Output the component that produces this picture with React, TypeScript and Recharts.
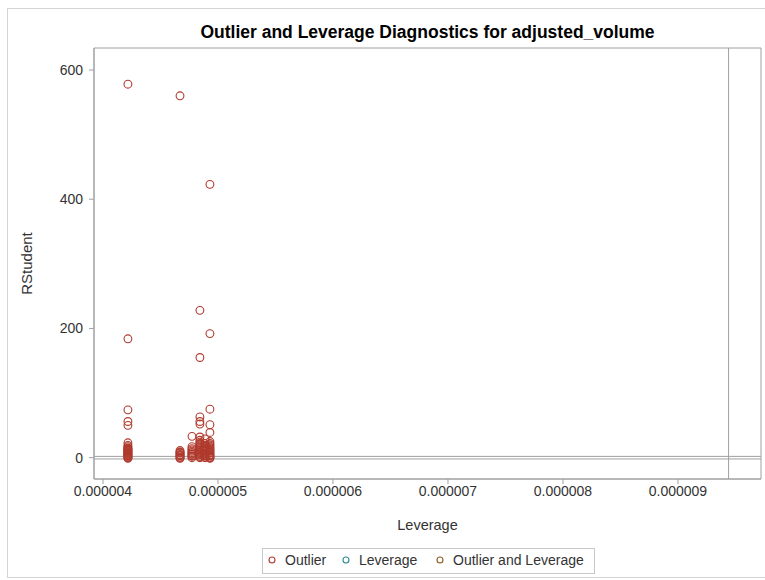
import React from 'react';
import { ScatterChart, Scatter, XAxis, YAxis, ReferenceLine, ReferenceArea } from 'recharts';

// axis ticks
const xTicks = [0.000004, 0.000005, 0.000006, 0.000007, 0.000008, 0.000009];
const yTicks = [0, 200, 400, 600];
const xDomain = [0.000003922, 0.000009722];
const yDomain = [-33, 634];

// cutoffs drawn as reference lines
const leverageCutoff = 0.00000944;
const rstudentCutoffs = [-2, 2];

// outlier observations, grouped by leverage value
const columnLeverage = [0.000004217, 0.00000467, 0.000004774, 0.000004843, 0.000004887, 0.00000493];
const columnRStudent = [
  [578, 184, 74, 56, 50, 23, 19, 17, 15, 14, 13, 12, 11, 10, 9, 8, 7, 6, 5, 4, 3, 2, 1, 0, -1],
  [560, 11, 9, 8, 7, 5, 4, 3, 1, 0, -1],
  [33, 17, 14, 12, 10, 8, 6, 5, 3, 2, 0],
  [228, 155, 63, 56, 52, 32, 27, 24, 22, 20, 18, 16, 14, 12, 11, 9, 8, 6, 5, 4, 2, 1, 0],
  [29, 22, 19, 17, 15, 13, 11, 9, 7, 6, 4, 3, 1, 0],
  [423, 192, 75, 51, 39, 25, 22, 20, 18, 16, 14, 13, 11, 10, 8, 7, 5, 4, 3, 1, 0, -1],
];

const outlierData = columnLeverage.flatMap((lev, i) =>
  columnRStudent[i].map((r) => ({ leverage: lev, rstudent: r }))
);
const leverageData: { leverage: number; rstudent: number }[] = [];
const bothData: { leverage: number; rstudent: number }[] = [];

const COLORS = { outlier: '#b03a2e', leverage: '#2e8b8b', both: '#8c5a1e' };
const FONT = '"Liberation Sans", Arial, sans-serif';
const AXIS = '#a0a0a0';

const ring = (color: string) => (p: any) => (
  <circle cx={p.cx} cy={p.cy} r={3.9} fill="none" stroke={color} strokeWidth={1.1} />
);

const legendItems = [
  { label: 'Outlier', color: COLORS.outlier, x: 272 },
  { label: 'Leverage', color: COLORS.leverage, x: 346 },
  { label: 'Outlier and Leverage', color: COLORS.both, x: 440 },
];

export default function App() {
  return (
    <div style={{ position: 'absolute', left: 0, top: 0, width: 765, height: 580, background: '#fff', fontFamily: FONT, overflow: 'hidden' }}>
      <div style={{ position: 'absolute', left: 7, top: 8, width: 780, height: 568, border: '1px solid #d4d4d4' }} />
      <div style={{ position: 'absolute', left: 94, width: 667, top: 21, lineHeight: '22px', textAlign: 'center', fontWeight: 'bold', fontSize: 17.5, color: '#000' }}>
        Outlier and Leverage Diagnostics for adjusted_volume
      </div>
      <div style={{ position: 'absolute', left: 0, top: 0 }}>
        <ScatterChart width={765} height={580} margin={{ top: 48, right: 4, left: 0, bottom: 41 }}>
          <XAxis
            type="number"
            dataKey="leverage"
            domain={xDomain}
            ticks={xTicks}
            allowDataOverflow
            tickFormatter={(v: number) => v.toFixed(6)}
            tick={{ fontSize: 14, fill: '#333', fontFamily: FONT }}
            stroke={AXIS}
            tickSize={5}
            tickMargin={2}
            height={60}
            label={{ value: 'Leverage', position: 'insideBottom', offset: 9, fontSize: 14.5, fill: '#333', fontFamily: FONT }}
          />
          <YAxis
            type="number"
            dataKey="rstudent"
            domain={yDomain}
            ticks={yTicks}
            allowDataOverflow
            tick={{ fontSize: 14, fill: '#333', fontFamily: FONT }}
            stroke={AXIS}
            tickSize={5}
            tickMargin={6}
            width={94}
            label={{ value: 'RStudent', angle: -90, position: 'insideLeft', offset: 27, fontSize: 15, fill: '#333', fontFamily: FONT, style: { textAnchor: 'middle' } }}
          />
          <ReferenceArea x1={xDomain[0]} x2={xDomain[1]} y1={yDomain[0]} y2={yDomain[1]} fill="none" stroke={AXIS} strokeWidth={1} />
          {rstudentCutoffs.map((c) => (
            <ReferenceLine key={c} y={c} stroke={AXIS} strokeWidth={1} />
          ))}
          <ReferenceLine x={leverageCutoff} stroke={AXIS} strokeWidth={1} />
          <Scatter name="Outlier" data={outlierData} shape={ring(COLORS.outlier)} isAnimationActive={false} />
          <Scatter name="Leverage" data={leverageData} shape={ring(COLORS.leverage)} isAnimationActive={false} />
          <Scatter name="Outlier and Leverage" data={bothData} shape={ring(COLORS.both)} isAnimationActive={false} />
        </ScatterChart>
      </div>
      <div style={{ position: 'absolute', left: 262, top: 548, width: 331, height: 24, border: '1px solid #c8c8c8' }} />
      {legendItems.map((it) => (
        <React.Fragment key={it.label}>
          <svg style={{ position: 'absolute', left: it.x - 4, top: 556 }} width={8} height={8}>
            <circle cx={4} cy={4} r={3} fill="none" stroke={it.color} strokeWidth={1.1} />
          </svg>
          <span style={{ position: 'absolute', left: it.x + 13, top: 552, fontSize: 14, lineHeight: '16px', color: '#333', whiteSpace: 'nowrap' }}>
            {it.label}
          </span>
        </React.Fragment>
      ))}
    </div>
  );
}
